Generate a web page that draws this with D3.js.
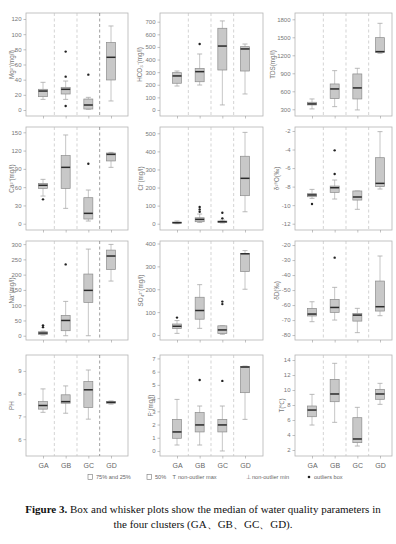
<!DOCTYPE html>
<html><head><meta charset="utf-8">
<script src="https://cdn.jsdelivr.net/npm/d3@7/dist/d3.min.js"></script>
<style>body{margin:0;background:#fff}svg{display:block}</style>
</head><body><svg id="c" width="396" height="544"></svg>
<script>
// ---------- DATA ----------
const groups = ["GA","GB","GC","GD"];
// box stats per group: [whisker min, Q1, median, Q3, whisker max]
const mg   = [[14,17.6,25,27.3,36.5],[14,21.1,27.3,29.9,38.2],[1,1.3,6.6,14.5,16.7],[11.9,39.6,69.5,89,110.8]];
const mgOut = [[],[77,44,5.3],[46.6],[]];
const hco3 = [[190,212,270,296,309],[198,224,304,330,444],[40,317,507,648,706],[127,309,484,502,523]];
const hco3Out = [[],[523],[],[]];
const tds  = [[306,372,389,417,472],[344,478,639,722,944],[289,472,656,889,983],[1233,1250,1261,1494,1733]];
const tdsOut = [[],[],[],[]];
const ca   = [[45.4,58,63,66.2,72.8],[25.2,58,92.5,111.7,145.6],[4.4,7.7,17,42.7,55.3],[92.5,103,113.8,116,117]];
const caOut = [[40],[],[98.5],[]];
const cl   = [[0,4,5.5,9,15],[7,11,24,33,53.5],[4,7,11,15,20],[66,155,251,373,505]];
const clOut = [[],[66,79,92],[29.5,61],[]];
const o18  = [[-9.27,-9.09,-8.9,-8.76,-8.3],[-9.34,-8.62,-8.12,-7.94,-7.29],[-10.45,-9.45,-9.12,-8.47,-8.47],[-8.26,-8.0,-7.65,-4.88,-2.07]];
const o18Out = [[-9.88],[-6.64,-4.09],[],[]];
const na   = [[2.2,4.4,8.7,13,15.3],[0,16.4,50,66.6,112.4],[0,109,148.5,202,283.7],[179,217,261,280.4,299]];
const naOut = [[28,34],[233.6],[],[]];
const so4  = [[7,28,38,48,63],[29,69,107,165,220],[3,6,22,40,40],[200,277,355,356,369]];
const so4Out = [[76],[],[135,146],[]];
const dD   = [[-71.1,-67.3,-66,-62.2,-57.8],[-70,-64.9,-61.6,-56.2,-48.2],[-78.4,-70.7,-66.7,-65.6,-62.2],[-67.1,-64,-61.1,-44,-27.3]];
const dDOut = [[],[-28.4],[],[]];
const ph   = [[7.18,7.32,7.48,7.65,8.21],[7.14,7.58,7.65,7.95,8.34],[6.88,7.39,8.17,8.53,9.04],[7.54,7.58,7.62,7.65,7.68]];
const phOut = [[],[],[],[]];
const fl   = [[0.45,0.96,1.44,2.39,3.9],[0.45,1.44,1.97,2.9,3.4],[0,1.44,1.97,2.39,3.4],[2.39,4.41,6.35,6.38,6.42]];
const flOut = [[],[5.37],[5.3],[]];
const tw   = [[5.33,6.44,7.33,7.87,9.42],[5.69,8.44,9.47,11.42,13.56],[2.53,2.98,3.47,6.31,7.69],[8.09,8.76,9.47,10.09,10.89]];
const twOut = [[],[],[],[]];

const titles = ["Mg²⁺(mg/l)","HCO₃⁻(mg/l)","TDS(mg/l)","Ca²⁺(mg/l)","Cl⁻(mg/l)","δ¹⁸O(‰)",
                "Na⁺(mg/l)","SO₄²⁻(mg/l)","δD(‰)","PH","F⁻(mg/l)","T(℃)"];
const tickSets = [d3.range(0,121,20), d3.range(0,701,100), d3.range(300,1801,300),
                  d3.range(0,151,30), d3.range(0,501,100), d3.range(-12,-1,2),
                  d3.range(0,301,50), d3.range(0,401,100), d3.range(-80,-19,10),
                  [6,7,8,9], d3.range(0,8,1), d3.range(2,15,2)];
const domains = [[-7.9,127.9],[-47.6,769],[188,1905],[-10.3,158.7],[-34.8,534.8],[-12.68,-1.57],
                 [-14,310.2],[-22,411],[-83.3,-17.3],[5.26,9.70],[-0.38,7.26],[1.2,14.67]];
const statSets = [mg,hco3,tds,ca,cl,o18,na,so4,dD,ph,fl,tw];
const outSets  = [mgOut,hco3Out,tdsOut,caOut,clOut,o18Out,naOut,so4Out,dDOut,phOut,flOut,twOut];
const legendLabels = ["75% and 25%","50%","non-outlier max","non-outlier min","outliers box"];

// ---------- LAYOUT ----------
const colX = [[26,128],[160,263],[295,392]];
const rowY = [[13,116],[127,230],[241,340],[355,456]];
const titleX = [12,140,273,12,141,277,12,141,277,12,151,282];
const font = "'Liberation Sans', Arial, sans-serif";
const svg = d3.select("#c");

statSets.forEach((stats, k) => {
  const r = Math.floor(k/3), c = k%3;
  const [x0,x1] = colX[c], [y0,y1] = rowY[r];
  const x = d3.scalePoint().domain(groups).range([x0+17, x0+85]);
  const y = d3.scaleLinear().domain(domains[k]).range([y1, y0]);
  const g = svg.append("g");

  g.append("rect").attr("x",x0).attr("y",y0).attr("width",x1-x0).attr("height",y1-y0)
    .attr("fill","none").attr("stroke","#b4b4b4").attr("stroke-width",0.8);

  for (let i=1;i<groups.length;i++){
    const xm = (x(groups[i-1])+x(groups[i]))/2;
    g.append("line").attr("x1",xm).attr("x2",xm).attr("y1",y0).attr("y2",y1)
      .attr("stroke", (c===0 && i===3) ? "#777" : "#c2c2c2")
      .attr("stroke-width",0.7).attr("stroke-dasharray","3,2.5");
  }

  const ya = g.append("g").attr("transform",`translate(${x0},0)`)
    .call(d3.axisLeft(y).tickValues(tickSets[k]).tickSize(2.5).tickPadding(2)
      .tickFormat(d => String(d)));
  ya.select(".domain").remove();
  ya.selectAll("line").attr("stroke","#999").attr("stroke-width",0.6);
  ya.selectAll("text").attr("fill","#777").style("font-family",font).style("font-size","6px");

  const xa = g.append("g").attr("transform",`translate(0,${y1})`)
    .call(d3.axisBottom(x).tickSize(2.5).tickPadding(5).tickFormat(r===3 ? (d=>d) : (()=>"")));
  xa.select(".domain").remove();
  xa.selectAll("line").attr("stroke","#999").attr("stroke-width",0.6);
  xa.selectAll("text").attr("fill","#666").style("font-family",font).style("font-size","7px");

  g.append("text").attr("transform",`translate(${titleX[k]},${(y0+y1)/2}) rotate(-90)`)
    .attr("text-anchor","middle").attr("dy","0.35em")
    .attr("fill","#777").style("font-family",font).style("font-size","6.3px").text(titles[k]);

  const bw = 9, cw = 5;
  groups.forEach((gr,i) => {
    const s = stats[i], cx = x(gr);
    g.append("line").attr("x1",cx).attr("x2",cx).attr("y1",y(s[0])).attr("y2",y(s[4]))
      .attr("stroke","#b8b8b8").attr("stroke-width",0.8);
    [s[0],s[4]].forEach(v => g.append("line").attr("x1",cx-cw/2).attr("x2",cx+cw/2)
      .attr("y1",y(v)).attr("y2",y(v)).attr("stroke","#a8a8a8").attr("stroke-width",0.8));
    g.append("rect").attr("x",cx-bw/2).attr("y",y(s[3])).attr("width",bw)
      .attr("height",Math.max(1,y(s[1])-y(s[3])))
      .attr("fill","#c8c8c8").attr("stroke","#8c8c8c").attr("stroke-width",0.7);
    g.append("line").attr("x1",cx-bw/2).attr("x2",cx+bw/2).attr("y1",y(s[2])).attr("y2",y(s[2]))
      .attr("stroke","#2a2a2a").attr("stroke-width",1.5);
    outSets[k][i].forEach(v => g.append("circle").attr("cx",cx).attr("cy",y(v)).attr("r",1.2).attr("fill","#222"));
  });
});

// ---------- LEGEND ----------
const lg = svg.append("g").style("font-family",font).style("font-size","5.6px").attr("fill","#666");
const ly = 477;
lg.append("rect").attr("x",88).attr("y",ly-2.7).attr("width",4.5).attr("height",5.2).attr("fill","#fff").attr("stroke","#777").attr("stroke-width",0.6);
lg.append("text").attr("x",96).attr("y",ly+2).text(legendLabels[0]);
lg.append("rect").attr("x",147).attr("y",ly-2.7).attr("width",4.5).attr("height",5.2).attr("fill","#fff").attr("stroke","#777").attr("stroke-width",0.6);
lg.append("text").attr("x",155).attr("y",ly+2).text(legendLabels[1]);
lg.append("text").attr("x",172.5).attr("y",ly+2).text("T");
lg.append("text").attr("x",178).attr("y",ly+2).text(legendLabels[2]);
lg.append("text").attr("x",245.5).attr("y",ly+2).text("⊥");
lg.append("text").attr("x",252).attr("y",ly+2).text(legendLabels[3]);
lg.append("circle").attr("cx",309).attr("cy",ly).attr("r",1.3).attr("fill","#222");
lg.append("text").attr("x",314).attr("y",ly+2).text(legendLabels[4]);

// ---------- CAPTION ----------
const cap = svg.append("g").style("font-family","'Liberation Serif','Times New Roman',serif")
  .style("font-size","11px").attr("fill","#111");
const t1 = cap.append("text").attr("x",203).attr("y",513).attr("text-anchor","middle");
t1.append("tspan").attr("font-weight","bold").text("Figure 3.");
t1.append("tspan").text(" Box and whisker plots show the median of water quality parameters in");
cap.append("text").attr("x",203).attr("y",528).attr("text-anchor","middle")
  .text("the four clusters (GA、GB、GC、GD).");
</script></body></html>
